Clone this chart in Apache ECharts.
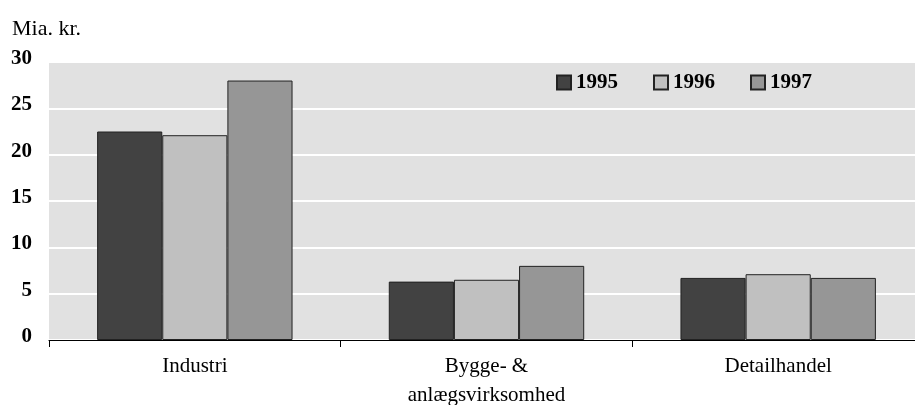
<!DOCTYPE html>
<html><head><meta charset="utf-8">
<script src="https://cdn.jsdelivr.net/npm/echarts@6/dist/echarts.min.js"></script>
<style>html,body{margin:0;padding:0;background:#fff;overflow:hidden}#c{width:924px;height:405px}</style>
</head><body><div id="c"></div>
<script>
const categories = ['Industri', 'Bygge- &\nanlægsvirksomhed', 'Detailhandel'];
const years = ['1995', '1996', '1997'];
const v1995 = [22.5, 6.3, 6.7];
const v1996 = [22.1, 6.5, 7.1];
const v1997 = [28.0, 8.0, 6.7];
const yTicks = [0, 5, 10, 15, 20, 25, 30];
const colors = ['#424242', '#c0c0c0', '#969696'];
const serif = '"Liberation Serif", "DejaVu Serif", serif';

const chart = echarts.init(document.getElementById('c'));
const vals = [v1995, v1996, v1997];
chart.setOption({
  animation: false,
  title: { text: 'Mia. kr.', left: 7, top: 13, textStyle: { fontFamily: serif, fontSize: 22, fontWeight: 'normal', color: '#000' } },
  legend: {
    data: years, left: 551, top: 67, itemWidth: 14, itemHeight: 14, itemGap: 35,
    icon: 'rect',
    textStyle: { fontFamily: serif, fontSize: 21, fontWeight: 'bold', color: '#000' }
  },
  grid: { left: 49, right: 0, top: 62, bottom: 65, outerBoundsMode: 'none', containLabel: false,
    show: true, backgroundColor: '#e1e1e1', borderWidth: 0 },
  xAxis: {
    type: 'category', data: categories,
    axisLine: { lineStyle: { color: '#000', width: 1.2 } },
    axisTick: { show: true, length: 7, lineStyle: { color: '#000' } },
    axisLabel: { margin: 12, fontFamily: serif, fontSize: 21, color: '#000', lineHeight: 29 }
  },
  yAxis: {
    type: 'value', min: 0, max: 30, interval: 5,
    axisLine: { show: false }, axisTick: { show: false },
    splitLine: { lineStyle: { color: '#ffffff', width: 2 } },
    axisLabel: { margin: 17, fontFamily: serif, fontSize: 21, fontWeight: 'bold', color: '#000',
      verticalAlign: 'bottom', lineHeight: 7,
      formatter: v => yTicks.includes(v) ? String(v) : '' }
  },
  series: years.map((y, i) => ({
    name: y, type: 'bar', data: vals[i], barGap: '0%', barCategoryGap: '33%',
    itemStyle: { color: colors[i], borderColor: '#222', borderWidth: 1 }
  }))
});
</script></body></html>
